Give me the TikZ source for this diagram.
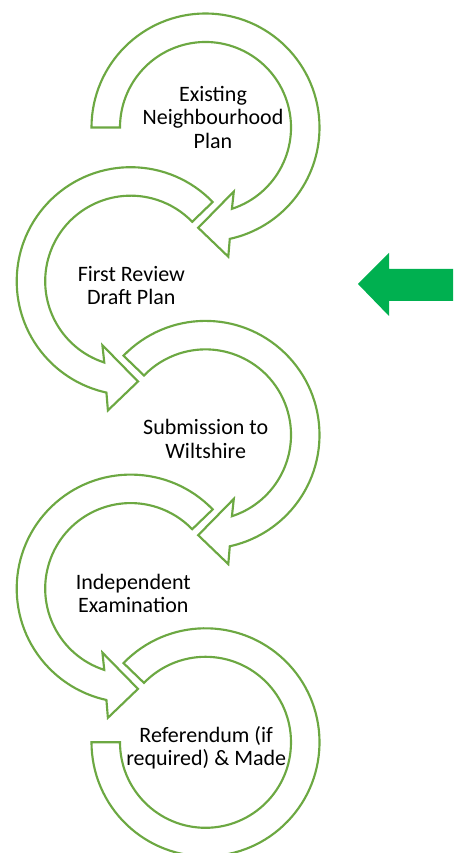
\documentclass[tikz,border=0pt]{standalone}
\usepackage{fontspec}
\setmainfont{Carlito}
\definecolor{ringgreen}{RGB}{108,168,66}
\definecolor{arrowgreen}{RGB}{0,176,80}
\begin{document}
\begin{tikzpicture}[x=0.75pt,y=0.75pt,
  ring/.style={draw=ringgreen,line width=1.6pt,fill=white,line join=miter},
  label/.style={align=center,inner sep=0pt,anchor=base,font=\fontsize{16.5}{17.5}\selectfont}]
\useasboundingbox (0,0) rectangle (456,853);
\clip (0,0) rectangle (456,853);
% centres
\coordinate (c1) at (205.5,725.5);
\coordinate (c2) at (130.7,571.8);
\coordinate (c3) at (205.5,418.1);
\coordinate (c4) at (130.7,264.4);
\coordinate (c5) at (205.5,110.7);
% ring 5 (last, flat end)
\begin{scope}[shift={(c5)}]
\draw[ring] (136:114) arc[start angle=136,end angle=-180,radius=114]
  -- (-180:85.5) arc[start angle=-180,end angle=136,radius=85.5] -- cycle;
\end{scope}
% ring 4 (mirrored)
\begin{scope}[shift={(c4)},xscale=-1]
\draw[ring] (136:114) arc[start angle=136,end angle=-77.7,radius=114]
  -- (22.8,-129.2) -- (-7.3,-100.3) -- (28.3,-64) -- (-72:85.5)
  arc[start angle=-72,end angle=136,radius=85.5] -- cycle;
\end{scope}
% ring 3
\begin{scope}[shift={(c3)}]
\draw[ring] (136:114) arc[start angle=136,end angle=-77.7,radius=114]
  -- (22.8,-129.2) -- (-7.3,-100.3) -- (28.3,-64) -- (-72:85.5)
  arc[start angle=-72,end angle=136,radius=85.5] -- cycle;
\end{scope}
% ring 2 (mirrored)
\begin{scope}[shift={(c2)},xscale=-1]
\draw[ring] (136:114) arc[start angle=136,end angle=-77.7,radius=114]
  -- (22.8,-129.2) -- (-7.3,-100.3) -- (28.3,-64) -- (-72:85.5)
  arc[start angle=-72,end angle=136,radius=85.5] -- cycle;
\end{scope}
% ring 1 (first)
\begin{scope}[shift={(c1)}]
\draw[ring] (180:114) arc[start angle=180,end angle=-77.7,radius=114]
  -- (22.8,-129.2) -- (-7.3,-100.3) -- (28.3,-64) -- (-72:85.5)
  arc[start angle=-72,end angle=180,radius=85.5] -- cycle;
\end{scope}
% labels (anchor base = baseline of last line)
\node[label] (t1) at (213,704.7) {Existing\\Neighbourhood\\Plan};
\node[label] (t2) at (131.3,548) {First Review\\Draft Plan};
\node[label] (t3) at (205.7,394.7) {Submission to\\Wiltshire};
\node[label] (t4) at (133.3,240.3) {Independent\\Examination};
\node[label] (t5) at (206.2,87) {Referendum (if\\required) \& Made};
% green arrow
\fill[arrowgreen] (453,552) -- (453,584) -- (389,584) -- (389,600) -- (358,569)
  -- (389,537) -- (389,552) -- cycle;
\end{tikzpicture}
\end{document}
